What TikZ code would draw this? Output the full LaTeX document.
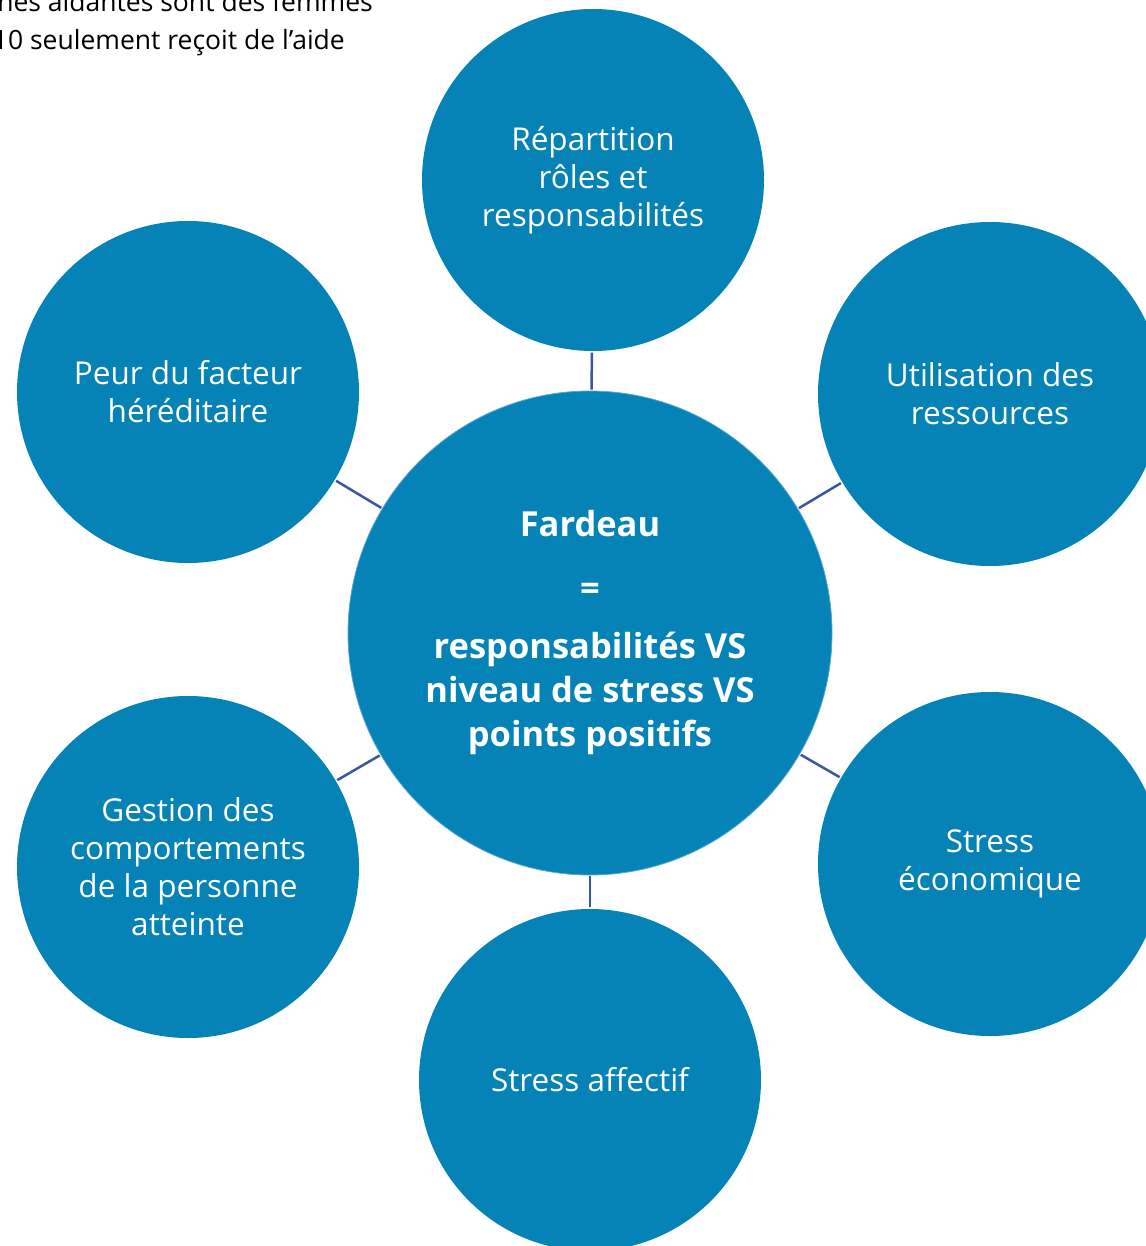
\documentclass[tikz,border=0pt]{standalone}
\usepackage{fontspec}
\setmainfont{Open Sans}
\definecolor{bubble}{HTML}{0583B6}
\definecolor{linkc}{HTML}{3B56A0}
\definecolor{rimc}{HTML}{5AA8D2}
\begin{document}
\begin{tikzpicture}[x=1pt,y=-1pt,
  bubblebox/.style={circle,fill=bubble,text=white,align=center,inner sep=0pt,
    font=\fontsize{31.5}{38}\selectfont},
  centrebox/.style={circle,fill=bubble,draw=rimc,line width=0.8pt,text=white,align=center,inner sep=0pt,
    font=\fontsize{34.5}{44}\selectfont\bfseries},
  link/.style={draw=linkc,line width=2.5pt},
  note/.style={anchor=base east,inner sep=0pt,font=\fontsize{26.5}{38}\selectfont}]
\useasboundingbox (0,0) rectangle (1145,1246);
\node[centrebox,minimum size=484pt] (c) at (590,633) {Fardeau\\[20pt]=\\[14pt]responsabilités VS\\niveau de stress VS\\points positifs};
\node[bubblebox,minimum size=342pt] (t) at (593,180) {Répartition\\rôles et\\responsabilités};
\node[bubblebox,minimum size=342pt] (lt) at (188,392) {Peur du facteur\\héréditaire};
\node[bubblebox,minimum size=344pt] (rt) at (990,394) {Utilisation des\\ressources};
\node[bubblebox,minimum size=342pt] (lb) at (188,867) {Gestion des\\comportements\\de la personne\\atteinte};
\node[bubblebox,minimum size=344pt] (rb) at (990,864) {Stress\\économique};
\node[bubblebox,minimum size=342pt] (b) at (590,1080) {Stress affectif};
\draw[link,shorten <=1pt,shorten >=1.5pt] (c) -- (t);
\draw[link,shorten <=1pt,shorten >=1.5pt] (c) -- (lt);
\draw[link,shorten <=1pt,shorten >=1.5pt] (c) -- (rt);
\draw[link,shorten <=1pt,shorten >=1.5pt] (c) -- (lb);
\draw[link,shorten <=1pt,shorten >=1.5pt] (c) -- (rb);
\draw[link,shorten <=1pt,shorten >=1.5pt] (c) -- (b);
\node[note] (n1) at (373,12) {nes aidantes sont des femmes};
\node[note] (n2) at (345,50) {10 seulement reçoit de l’aide};
\end{tikzpicture}
\end{document}
